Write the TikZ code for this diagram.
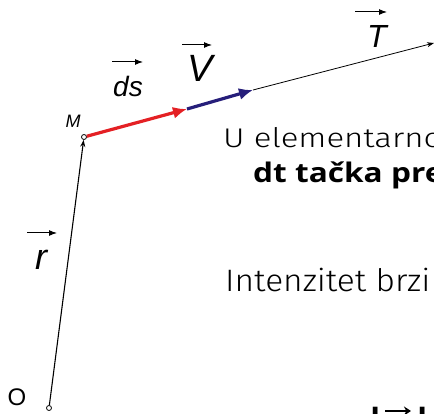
\documentclass[tikz,border=0pt]{standalone}
\usepackage{fontspec}
\setsansfont{Liberation Sans}
\newfontfamily\thinfont{Fira Sans Light}
\newfontfamily\boldfont{Open Sans}
\usetikzlibrary{arrows.meta, positioning}
\definecolor{dsred}{RGB}{228,32,36}
\definecolor{vblue}{RGB}{38,30,122}

\begin{document}
\begin{tikzpicture}[
	x=1pt, y=-1pt,
	every node/.style={inner sep=0pt},
	lbl/.style={font=\sffamily\itshape, anchor=base},
	pt/.style={circle, draw, fill=white, minimum size=5pt, line width=0.8pt},
	vec/.style={-{Latex[length=14pt,width=12pt]}, line width=3.2pt},
	thin arrow/.style={-{Stealth[length=7pt,width=5pt]}, line width=0.8pt},
	lbl arrow/.style={-{Latex[length=8pt,width=6pt]}, line width=1pt}
]
\useasboundingbox (0,0) rectangle (434,414);
\clip (0,0) rectangle (434,414);

% points
\node[pt] (O) at (49,408) {};
\node[pt] (M) at (84,137) {};
\coordinate (dsEnd) at (187,109);
\coordinate (vEnd) at (253,90);
\coordinate (tEnd) at (434,43);

% vectors
\draw[thin arrow, line width=1.1pt] (O) -- (M);
\draw[vec, dsred] (M) -- (dsEnd);
\draw[vec, vblue] (dsEnd) -- (vEnd);
\draw[thin arrow] (vEnd) -- (tEnd);

% labels
\node[font=\sffamily\fontsize{24}{24}\selectfont] (oLab) at (17,397) {O};
\node[font=\sffamily\itshape\fontsize{18}{18}\selectfont] (mLab) at (73,121) {M};
\node[lbl, font=\sffamily\itshape\fontsize{36}{36}\selectfont] (rLab) at (41,270) {r};
\node[lbl, font=\sffamily\itshape\fontsize{28}{28}\selectfont] (dsLab) at (128,97) {ds};
\node[lbl, font=\sffamily\itshape\fontsize{38}{38}\selectfont] (vLab) at (200,82) {V};
\node[lbl, font=\sffamily\itshape\fontsize{32}{32}\selectfont] (tLab) at (377,48) {T};

% arrows over the labels
\draw[lbl arrow] ([xshift=-14pt,yshift=37pt]rLab.base) -- ++(30,0);
\draw[lbl arrow] ([xshift=-16pt,yshift=35pt]dsLab.base) -- ++(31,0);
\draw[lbl arrow] ([xshift=-18pt,yshift=37pt]vLab.base) -- ++(30,0);
\draw[lbl arrow] ([xshift=-22pt,yshift=36pt]tLab.base) -- ++(32,0);

% slide text
\node[anchor=base west, xscale=1.22, font=\thinfont\fontsize{27}{27}\selectfont] (txtA) at (223,148) {U elementarno};
\node[anchor=base west, xscale=1.17, font=\boldfont\bfseries\fontsize{27}{27}\selectfont] (txtB) at (253,183) {dt tačka pre};
\node[anchor=base west, xscale=1.08, font=\thinfont\fontsize{31}{31}\selectfont] (txtC) at (225,292) {Intenzitet brzi};

% cut-off formula at the bottom
\node[anchor=north, font=\boldfont\bfseries\fontsize{44}{44}\selectfont] (barL) at (376,407) {|};
\node[anchor=north, font=\boldfont\bfseries\fontsize{44}{44}\selectfont] (barR) at (423,407) {|};
\draw[-{Stealth[length=7pt,width=9pt]}, line width=1.6pt] ([xshift=9pt,yshift=-4pt]barL.north) -- ([xshift=-12pt,yshift=-4pt]barR.north);

\end{tikzpicture}
\end{document}
